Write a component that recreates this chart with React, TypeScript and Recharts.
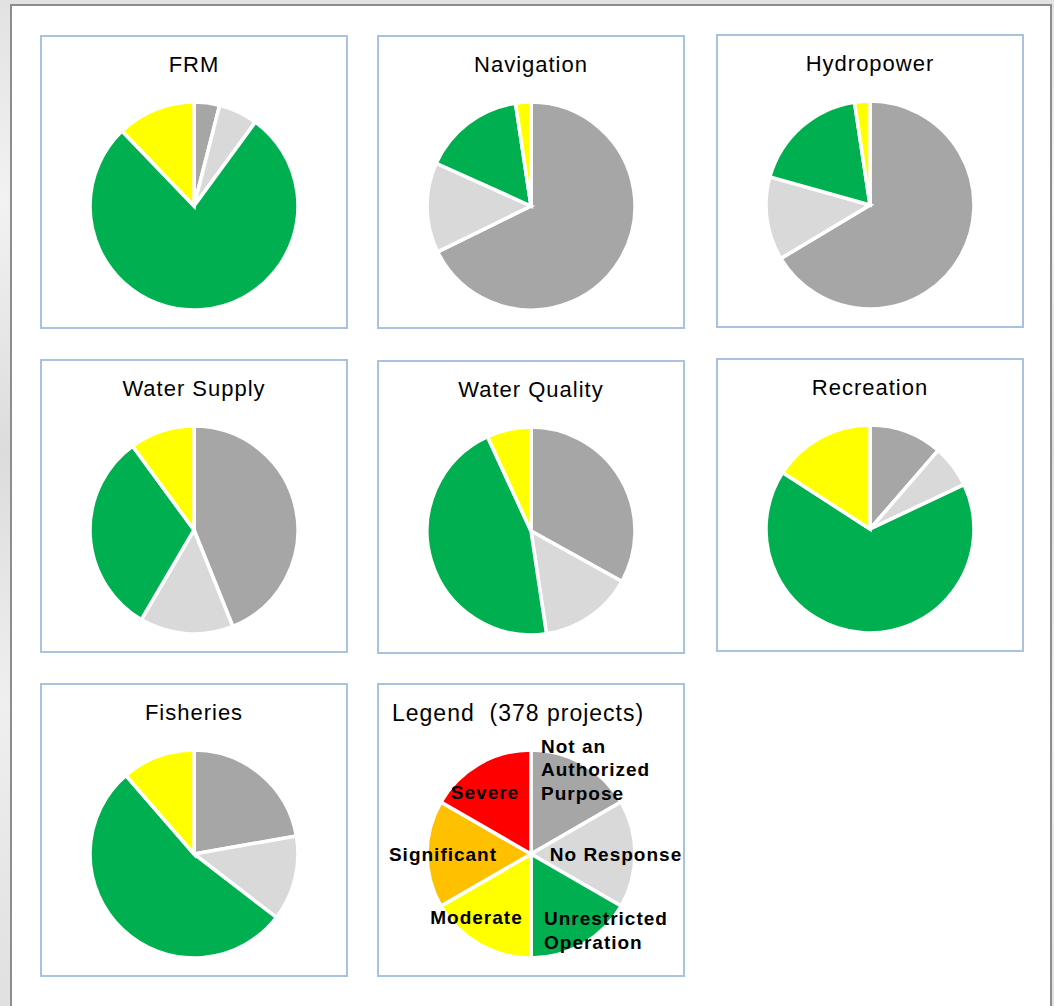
import { PieChart, Pie, Cell, type PieLabelRenderProps } from 'recharts';

// Severity categories, drawn clockwise from 12 o'clock
const categories = [
  'Not an Authorized Purpose',
  'No Response',
  'Unrestricted Operation',
  'Moderate',
  'Significant',
  'Severe',
];

// Project counts per category (378 projects)
const frm = [15, 23, 294, 46, 0, 0];
const navigation = [256, 53, 60, 9, 0, 0];
const hydropower = [251, 49, 69, 9, 0, 0];
const waterSupply = [166, 55, 119, 38, 0, 0];
const waterQuality = [125, 55, 172, 26, 0, 0];
const recreation = [43, 25, 250, 60, 0, 0];
const fisheries = [84, 50, 201, 43, 0, 0];
const legendShares = [1, 1, 1, 1, 1, 1];

const legendLabels = ['Not an\nAuthorized\nPurpose', 'No Response', 'Unrestricted\nOperation', 'Moderate', 'Significant', 'Severe'];

const COLORS: Record<string, string> = {
  'Not an Authorized Purpose': '#a6a6a6',
  'No Response': '#d9d9d9',
  'Unrestricted Operation': '#00b050',
  Moderate: '#ffff00',
  Significant: '#ffc000',
  Severe: '#ff0000',
};

const FONT = '"Liberation Sans", Arial, sans-serif';
const PANEL_W = 308;
const PANEL_H = 294;
const CX = 154;
const CY = 171;
const RADIUS = 104;

const toRows = (values: number[]) =>
  categories.map((name, i) => ({ name, value: values[i] })).filter((d) => d.value > 0);

// label placement around the legend pie: [radius, extra x shift, anchor]
const LABEL_POS: [number, number, 'start' | 'middle'][] = [
  [98, -39, 'start'],
  [85, 0, 'middle'],
  [88, -31, 'start'],
  [73, -18, 'middle'],
  [88, 0, 'middle'],
  [72, -10, 'middle'],
];

const RADIAN = Math.PI / 180;

function LegendLabel(props: PieLabelRenderProps) {
  const { cx, cy, midAngle, index } = props as any;
  const [r, shift, anchor] = LABEL_POS[index];
  const x = Number(cx) + Math.cos(-midAngle * RADIAN) * r + shift;
  const y = Number(cy) + Math.sin(-midAngle * RADIAN) * r;
  const lines = legendLabels[index].split('\n');
  const lh = 23.5;
  const y0 = y - ((lines.length - 1) * lh) / 2;
  return (
    <text
      x={x}
      y={y0}
      textAnchor={anchor}
      dominantBaseline="central"
      fill="#000"
      fontFamily={FONT}
      fontWeight="bold"
      fontSize={19}
      letterSpacing={1}
    >
      {lines.map((l, i) => (
        <tspan key={i} x={x} y={y0 + i * lh}>
          {l}
        </tspan>
      ))}
    </text>
  );
}

function Panel({ left, top, title, values, legend }: { left: number; top: number; title: string; values: number[]; legend?: boolean }) {
  const data = toRows(values);
  return (
    <div
      style={{
        position: 'absolute',
        left,
        top,
        width: PANEL_W,
        height: PANEL_H,
        boxSizing: 'border-box',
        border: '2px solid #a9c2dd',
        background: '#fff',
      }}
    >
      <div
        style={{
          position: 'absolute',
          left: legend ? 13 : 0,
          top: 14,
          width: legend ? 'auto' : PANEL_W - 4,
          textAlign: legend ? 'left' : 'center',
          fontFamily: FONT,
          fontSize: legend ? 23 : 22,
          letterSpacing: 1,
          whiteSpace: 'pre',
          color: '#000',
          lineHeight: '28px',
        }}
      >
        {title}
      </div>
      <div style={{ position: 'absolute', left: -2, top: -2 }}>
        <PieChart
          width={PANEL_W}
          height={PANEL_H}
          margin={{ top: 0, right: 0, bottom: 0, left: 0 }}
          style={{ overflow: 'visible' }}
        >
          <Pie
            data={data}
            dataKey="value"
            nameKey="name"
            cx={CX}
            cy={CY}
            outerRadius={RADIUS}
            startAngle={90}
            endAngle={-270}
            stroke="#fff"
            strokeWidth={3.5}
            isAnimationActive={false}
            label={legend ? LegendLabel : false}
            labelLine={false}
          >
            {data.map((d) => (
              <Cell key={d.name} fill={COLORS[d.name]} />
            ))}
          </Pie>
        </PieChart>
      </div>
    </div>
  );
}

export default function App() {
  return (
    <div
      style={{
        position: 'absolute',
        left: 0,
        top: 0,
        width: 1054,
        height: 1006,
        overflow: 'hidden',
        background: 'linear-gradient(180deg, #e2e2e2 0%, #f2f2f2 20%, #dcdcdc 45%, #efefef 70%, #e0e0e0 100%)',
      }}
    >
      <div
        style={{
          position: 'absolute',
          left: 10,
          top: 4,
          width: 1042,
          height: 1020,
          boxSizing: 'border-box',
          border: '2px solid #8d8d8d',
          background: '#fff',
        }}
      />
      <Panel left={40} top={35} title="FRM" values={frm} />
      <Panel left={377} top={35} title="Navigation" values={navigation} />
      <Panel left={716} top={34} title="Hydropower" values={hydropower} />
      <Panel left={40} top={359} title="Water Supply" values={waterSupply} />
      <Panel left={377} top={360} title="Water Quality" values={waterQuality} />
      <Panel left={716} top={358} title="Recreation" values={recreation} />
      <Panel left={40} top={683} title="Fisheries" values={fisheries} />
      <Panel left={377} top={683} title={'Legend  (378 projects)'} values={legendShares} legend />
    </div>
  );
}
